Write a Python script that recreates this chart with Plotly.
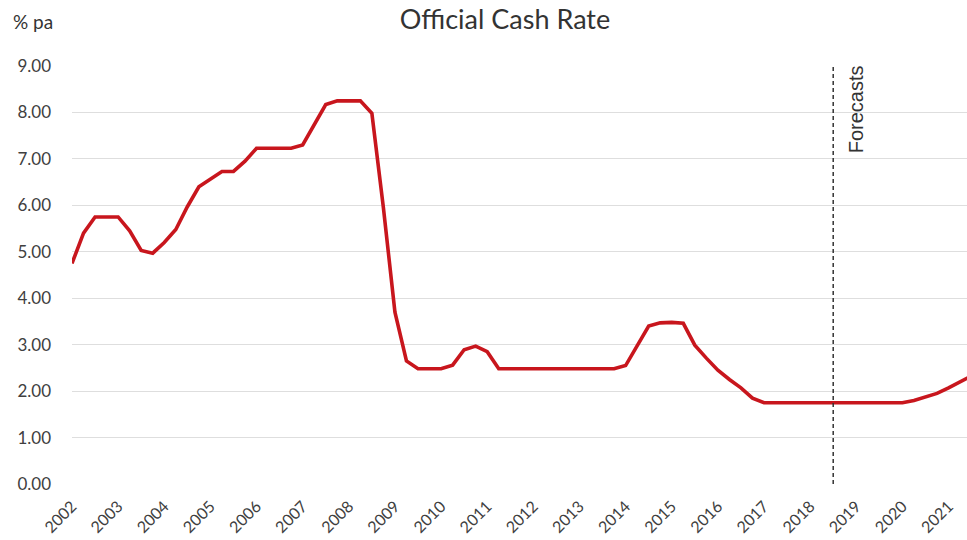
import plotly.graph_objects as go

# Quarterly Official Cash Rate, 2002 Q1 onwards (% pa)
quarter_index = list(range(79))
ocr_values = [
    4.75, 5.40, 5.75, 5.75,          # 2002
    5.75, 5.45, 5.03, 4.97,          # 2003
    5.20, 5.48, 5.97, 6.40,          # 2004
    6.57, 6.73, 6.73, 6.95,          # 2005
    7.23, 7.23, 7.23, 7.23,          # 2006
    7.30, 7.73, 8.17, 8.25,          # 2007
    8.25, 8.25, 7.98, 5.95,          # 2008
    3.70, 2.65, 2.48, 2.48,          # 2009
    2.48, 2.56, 2.89, 2.97,          # 2010
    2.85, 2.48, 2.48, 2.48,          # 2011
    2.48, 2.48, 2.48, 2.48,          # 2012
    2.48, 2.48, 2.48, 2.48,          # 2013
    2.55, 2.97, 3.40, 3.47,          # 2014
    3.48, 3.46, 2.99, 2.71,          # 2015
    2.45, 2.25, 2.07, 1.85,          # 2016
    1.75, 1.75, 1.75, 1.75,          # 2017
    1.75, 1.75, 1.75, 1.75,          # 2018
    1.75, 1.75, 1.75, 1.75,          # 2019
    1.75, 1.80, 1.88, 1.95,          # 2020
    2.07, 2.20, 2.33,                # 2021
]
year_labels = [str(y) for y in range(2002, 2022)]
year_tick_pos = [4 * k for k in range(len(year_labels))]
y_ticks = [0, 1, 2, 3, 4, 5, 6, 7, 8, 9]
y_tick_text = [f"{v:.2f}" for v in y_ticks]
forecast_start = 66  # 2018 Q3
title_text = "Official Cash Rate"
y_unit = "% pa"
forecast_label = "Forecasts"

FONT = "Lato"
TXT = "#404040"

W, H = 967, 540
ML, MR, MT, MB = 72, 0, 66, 56
PW, PH = W - ML - MR, H - MT - MB

fig = go.Figure()
fig.add_trace(go.Scatter(
    x=quarter_index, y=ocr_values, mode="lines",
    line=dict(color="#C8161D", width=3.6),
    hoverinfo="skip", showlegend=False,
))

fig.add_shape(type="line", xref="x", yref="y",
              x0=forecast_start, x1=forecast_start, y0=0, y1=9.0,
              line=dict(color="#333333", width=1.5, dash="4px,3px"))

fig.add_annotation(x=forecast_start + 2.0, y=(H - MB - 63) / PH, xref="x", yref="paper",
                   text=forecast_label, textangle=-90, showarrow=False,
                   xanchor="center", yanchor="top",
                   font=dict(family="Liberation Sans", size=20, color="#333333"))

fig.add_annotation(x=(11 - ML) / PW, y=(H - MB - 22) / PH, xref="paper", yref="paper",
                   text=y_unit, showarrow=False, xanchor="left", yanchor="middle",
                   font=dict(family=FONT, size=19, color="#333333"))

fig.update_layout(
    width=W, height=H,
    margin=dict(l=ML, r=MR, t=MT, b=MB, autoexpand=False),
    paper_bgcolor="white", plot_bgcolor="white",
    title=dict(text=title_text, x=505 / W, xref="container", xanchor="center",
               y=1 - 20 / H, yref="container", yanchor="middle",
               font=dict(family=FONT, size=27, color="#333333")),
    xaxis=dict(range=[0, 77.6], tickmode="array", tickvals=year_tick_pos,
               ticktext=year_labels, tickangle=-45, showgrid=False,
               zeroline=False, showline=False, ticks="", automargin=False,
               ticklabelstandoff=9,
               tickfont=dict(family=FONT, size=16, color=TXT)),
    yaxis=dict(range=[0, 9], tickmode="array", tickvals=y_ticks,
               ticktext=y_tick_text, showgrid=True, gridcolor="#dedede",
               gridwidth=1, zeroline=False, showline=False, ticks="", automargin=False,
               ticklabelstandoff=20,
               tickfont=dict(family=FONT, size=17, color=TXT)),
)

fig.write_html("out.html")
